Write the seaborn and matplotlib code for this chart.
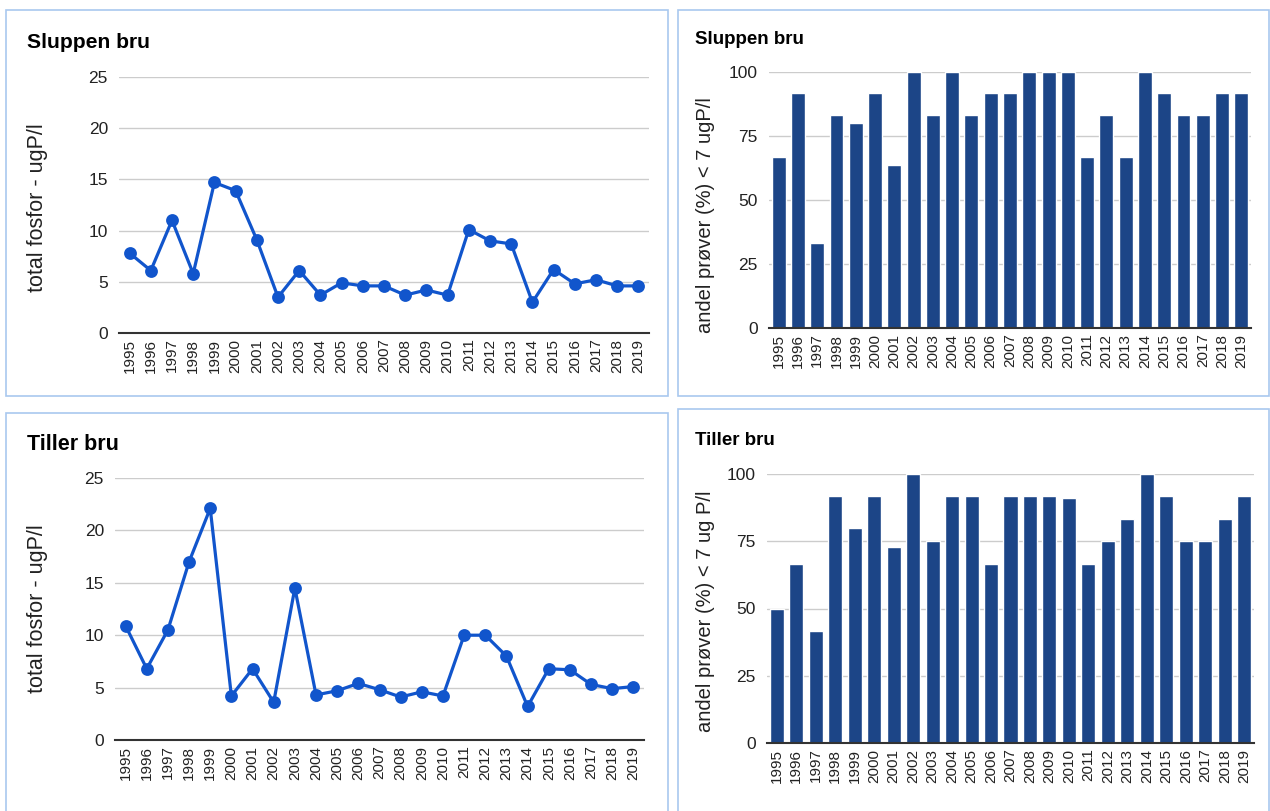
import matplotlib
matplotlib.use("Agg")
import matplotlib.pyplot as plt
from matplotlib.patches import Rectangle
import seaborn as sns

# Years of sampling
years = [str(y) for y in range(1995, 2020)]

# Mean total phosphorus (ugP/l)
sluppen_tp = [7.8, 6.1, 11.0, 5.8, 14.7, 13.9, 9.1, 3.5, 6.1, 3.7,
              4.9, 4.6, 4.6, 3.7, 4.2, 3.7, 10.1, 9.0, 8.7, 3.0,
              6.2, 4.8, 5.2, 4.6, 4.6]
tiller_tp = [10.9, 6.8, 10.5, 17.0, 22.1, 4.2, 6.8, 3.6, 14.5, 4.3,
             4.7, 5.4, 4.8, 4.1, 4.6, 4.2, 10.0, 10.0, 8.0, 3.2,
             6.8, 6.7, 5.3, 4.9, 5.1]

# Share of samples (%) below 7 ugP/l
sluppen_share = [66.7, 91.7, 33.3, 83.3, 80.0, 91.7, 63.6, 100, 83.3, 100,
                 83.3, 91.7, 91.7, 100, 100, 100, 66.7, 83.3, 66.7, 100,
                 91.7, 83.3, 83.3, 91.7, 91.7]
tiller_share = [50.0, 66.7, 41.7, 91.7, 80.0, 91.7, 72.7, 100, 75.0, 91.7,
                91.7, 66.7, 91.7, 91.7, 91.7, 90.9, 66.7, 75.0, 83.3, 100,
                91.7, 75.0, 75.0, 83.3, 91.7]

tp_ticks = [0, 5, 10, 15, 20, 25]
share_ticks = [0, 25, 50, 75, 100]

sns.set_theme(style="white")
plt.rcParams["font.family"] = ["Liberation Sans", "DejaVu Sans"]

W, H = 1270, 811
fig = plt.figure(figsize=(W / 100, H / 100), dpi=100)
fig.patch.set_facecolor("white")

LINE_BLUE = "#1155cc"
BAR_BLUE = "#1c4587"
GRID = "#cccccc"
FRAME = "#a9c8ef"


def px_axes(left, top, right, bottom):
    return fig.add_axes([left / W, 1 - bottom / H, (right - left) / W, (bottom - top) / H])


def frame(x0, y0, x1, y1):
    fig.add_artist(Rectangle((x0 / W, 1 - y1 / H), (x1 - x0) / W, (y1 - y0) / H,
                             transform=fig.transFigure, fill=False,
                             edgecolor=FRAME, linewidth=1.2, zorder=0))


def style(ax, ticks, ylabel, label_x, label_y, label_size):
    ax.set_ylim(ticks[0], ticks[-1])
    ax.set_yticks(ticks)
    ax.set_xlim(-0.5, len(years) - 0.5)
    ax.grid(axis="y", color=GRID, linewidth=1.0)
    ax.grid(axis="x", visible=False)
    ax.set_axisbelow(True)
    for s in ("top", "right", "left"):
        ax.spines[s].set_visible(False)
    ax.spines["bottom"].set_color("#333333")
    ax.spines["bottom"].set_linewidth(1.5)
    ax.tick_params(axis="x", length=0, pad=4, labelsize=11, rotation=90, colors="#222222")
    ax.tick_params(axis="y", length=0, pad=8, labelsize=12.5, colors="#222222")
    ax.set_xlabel("")
    ax.set_ylabel(ylabel, fontsize=label_size, color="#222222")
    ax.yaxis.set_label_coords(label_x, label_y)
    ax.yaxis.label.set_verticalalignment("center")
    ax.set_facecolor("none")


# Panel frames
frame(6, 10, 668, 396)
frame(678, 10, 1269, 396)
frame(6, 413, 668, 815)
frame(678, 409, 1269, 815)

# Top-left: Sluppen bru, total phosphorus
ax1 = px_axes(119, 77, 649, 333)
sns.pointplot(x=years, y=sluppen_tp, ax=ax1, color=LINE_BLUE, errorbar=None,
              markersize=7.5, linewidth=2.3)
style(ax1, tp_ticks, "total fosfor - ugP/l", -0.153, 0.49, 15.5)

# Top-right: Sluppen bru, share below 7 ugP/l
ax2 = px_axes(769, 72, 1251, 328)
sns.barplot(x=years, y=sluppen_share, ax=ax2, color=BAR_BLUE, saturation=1, width=0.72)
style(ax2, share_ticks, "andel prøver (%) < 7 ugP/l", -0.131, 0.44, 14.5)

# Bottom-left: Tiller bru, total phosphorus
ax3 = px_axes(115, 478, 644, 740)
sns.pointplot(x=years, y=tiller_tp, ax=ax3, color=LINE_BLUE, errorbar=None,
              markersize=7.5, linewidth=2.3)
style(ax3, tp_ticks, "total fosfor - ugP/l", -0.146, 0.5, 15.5)

# Bottom-right: Tiller bru, share below 7 ug P/l
ax4 = px_axes(767, 474, 1254, 743)
sns.barplot(x=years, y=tiller_share, ax=ax4, color=BAR_BLUE, saturation=1, width=0.72)
style(ax4, share_ticks, "andel prøver (%) < 7 ug P/l", -0.127, 0.49, 14.5)

# Panel titles
fig.text(27 / W, 1 - 42 / H, "Sluppen bru", fontsize=15.2, fontweight="bold",
         ha="left", va="center", color="black")
fig.text(695 / W, 1 - 40 / H, "Sluppen bru", fontsize=13.5, fontweight="bold",
         ha="left", va="center", color="black")
fig.text(27 / W, 1 - 445 / H, "Tiller bru", fontsize=15.5, fontweight="bold",
         ha="left", va="center", color="black")
fig.text(695 / W, 1 - 440 / H, "Tiller bru", fontsize=13.5, fontweight="bold",
         ha="left", va="center", color="black")

fig.savefig("out.png", dpi=100, facecolor="white")
